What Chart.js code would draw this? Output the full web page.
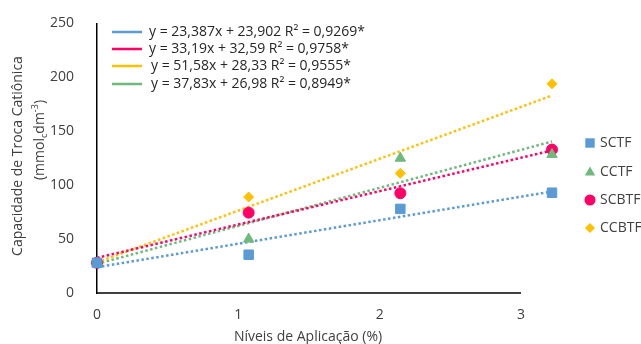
<!DOCTYPE html>
<html>
<head>
<meta charset="utf-8">
<script src="https://cdn.jsdelivr.net/npm/chart.js@4/dist/chart.umd.min.js"></script>
<style>
  html, body { margin: 0; padding: 0; background: #fff; }
  #wrap { width: 641px; height: 344px; }
</style>
</head>
<body>
<div id="wrap"><canvas id="chart" width="641" height="344"></canvas></div>
<script>
// values
const levels = [0, 1, 2, 3];
const sctf = [28, 35.5, 78, 93];
const cctf = [27.5, 50, 125, 128.5];
const scbtf = [28, 74.5, 92.5, 133];
const ccbtf = [28, 89, 111, 194];

// trend line ends (x = 0 and x = 3)
const trendX = [0, 3];
const sctfTrend = [23.9, 94.1];
const scbtfTrend = [32.6, 132.2];
const ccbtfTrend = [28.3, 183.1];
const cctfTrend = [27.0, 140.5];

const xTicks = [0, 1, 2, 3];
const seriesNames = ['SCTF', 'CCTF', 'SCBTF', 'CCBTF'];
const equations = [
  'y = 23,387x + 23,902 R² = 0,9269*',
  'y = 33,19x + 32,59 R² = 0,9758*',
  'y = 51,58x + 28,33 R² = 0,9555*',
  'y = 37,83x + 26,98 R² = 0,8949*',
];
const xTitle = 'Níveis de Aplicação (%)';
const yTitle = 'Capacidade de Troca Catiônica';

const BLUE = '#5B9BD5';
const GREEN = '#6FB97C';
const PINK = '#FF0066';
const YELLOW = '#FFC000';
const TEXT = '#404040';

Chart.defaults.font.family = "'Open Sans', sans-serif";
Chart.defaults.color = TEXT;

const pts = (ys) => levels.map((x, i) => ({ x, y: ys[i] }));
const trend = (ys) => trendX.map((x, i) => ({ x, y: ys[i] }));

const markerSet = (label, ys, color, style, radius) => ({
  type: 'scatter',
  label,
  data: pts(ys),
  xAxisID: 'xd',
  pointStyle: style,
  pointRadius: radius,
  pointHoverRadius: radius,
  backgroundColor: color,
  borderColor: color,
  borderWidth: 1,
  clip: false,
});

const trendSet = (ys, color) => ({
  type: 'line',
  data: trend(ys),
  xAxisID: 'xd',
  borderColor: color,
  borderWidth: 2.5,
  borderDash: [2.5, 2.5],
  pointRadius: 0,
  fill: false,
  clip: false,
});

const markerLegend = [
  { name: seriesNames[0], color: BLUE, style: 'rect' },
  { name: seriesNames[1], color: GREEN, style: 'triangle' },
  { name: seriesNames[2], color: PINK, style: 'circle' },
  { name: seriesNames[3], color: YELLOW, style: 'rectRot' },
];
const lineLegendColors = [BLUE, PINK, YELLOW, GREEN];

function drawMarker(ctx, style, x, y, color) {
  ctx.fillStyle = color;
  ctx.beginPath();
  if (style === 'rect') {
    ctx.rect(x - 4.7, y - 4.7, 9.4, 9.4);
  } else if (style === 'triangle') {
    ctx.moveTo(x, y - 5.5);
    ctx.lineTo(x + 5.2, y + 3.5);
    ctx.lineTo(x - 5.2, y + 3.5);
    ctx.closePath();
  } else if (style === 'circle') {
    ctx.arc(x, y, 5.5, 0, Math.PI * 2);
  } else {
    ctx.moveTo(x, y - 5);
    ctx.lineTo(x + 5, y);
    ctx.lineTo(x, y + 5);
    ctx.lineTo(x - 5, y);
    ctx.closePath();
  }
  ctx.fill();
}

const decorations = {
  id: 'decorations',
  beforeDatasetsDraw(chart) {
    // x axis line, it stops at the "3" tick label like the reference
    const ctx = chart.ctx;
    const xv = chart.scales.x;
    const area = chart.chartArea;
    ctx.save();
    ctx.strokeStyle = '#000';
    ctx.lineWidth = 1.5;
    ctx.beginPath();
    ctx.moveTo(area.left - 0.75, area.bottom);
    ctx.lineTo(xv.getPixelForValue(3), area.bottom);
    ctx.stroke();
    ctx.restore();
  },
  afterDraw(chart) {
    const ctx = chart.ctx;
    ctx.save();

    // equations legend, top left inside the plot
    const eqY = [32, 49, 66, 84];
    const eqX = [149, 149, 151, 151];
    ctx.font = "14px 'Open Sans'";
    ctx.textBaseline = 'middle';
    ctx.textAlign = 'left';
    equations.forEach((txt, i) => {
      ctx.strokeStyle = lineLegendColors[i];
      ctx.lineWidth = 2.5;
      ctx.beginPath();
      ctx.moveTo(112, eqY[i]);
      ctx.lineTo(142, eqY[i]);
      ctx.stroke();
      ctx.fillStyle = '#262626';
      ctx.fillText(txt, eqX[i], eqY[i]);
    });

    // series legend, right side
    const legY = [143, 172, 200, 228];
    ctx.font = "14px 'Open Sans'";
    markerLegend.forEach((m, i) => {
      drawMarker(ctx, m.style, 590, legY[i], m.color);
      ctx.fillStyle = TEXT;
      ctx.fillText(m.name, 600, legY[i]);
    });

    // x axis title
    ctx.font = "14px 'Open Sans'";
    ctx.textAlign = 'center';
    ctx.fillStyle = TEXT;
    ctx.fillText(xTitle, 308, 337);

    // y axis title, two lines, rotated
    ctx.translate(18, 156);
    ctx.rotate(-Math.PI / 2);
    ctx.fillText(yTitle, 0, 0);
    ctx.rotate(Math.PI / 2);
    ctx.translate(-18, -156);

    ctx.translate(40, 140);
    ctx.rotate(-Math.PI / 2);
    const parts = [
      { t: '(mmol', size: 14, dy: 0 },
      { t: 'c', size: 9, dy: 4 },
      { t: 'dm', size: 14, dy: 0 },
      { t: '-3', size: 9, dy: -5 },
      { t: ')', size: 14, dy: 0 },
    ];
    let total = 0;
    parts.forEach((p) => {
      ctx.font = p.size + "px 'Open Sans'";
      p.w = ctx.measureText(p.t).width;
      total += p.w;
    });
    let px = -total / 2;
    ctx.textAlign = 'left';
    parts.forEach((p) => {
      ctx.font = p.size + "px 'Open Sans'";
      ctx.fillText(p.t, px, p.dy);
      px += p.w;
    });
    ctx.restore();
  },
};

// plot area: 97..552 px; labels 0..3 sit on 97..521 px
const dataMax = 3;
const labelMax = 3 * 455 / 424;

new Chart(document.getElementById('chart'), {
  data: {
    datasets: [
      markerSet(seriesNames[0], sctf, BLUE, 'rect', 6.7),
      markerSet(seriesNames[1], cctf, GREEN, 'triangle', 6),
      markerSet(seriesNames[2], scbtf, PINK, 'circle', 5.5),
      markerSet(seriesNames[3], ccbtf, YELLOW, 'rectRot', 5),
      trendSet(sctfTrend, BLUE),
      trendSet(scbtfTrend, PINK),
      trendSet(ccbtfTrend, YELLOW),
      trendSet(cctfTrend, GREEN),
    ],
  },
  options: {
    responsive: false,
    animation: false,
    layout: { padding: { top: 21, right: 89, left: 0, bottom: 0 } },
    plugins: { legend: { display: false }, tooltip: { enabled: false } },
    scales: {
      x: {
        type: 'linear',
        position: 'bottom',
        min: 0,
        max: labelMax,
        afterBuildTicks(s) { s.ticks = xTicks.map((v) => ({ value: v })); },
        ticks: { padding: 6, color: TEXT, font: { size: 14 } },
        grid: { display: false },
        border: { display: false },
        afterFit(s) { s.height = 51; },
      },
      xd: {
        type: 'linear',
        position: 'bottom',
        min: 0,
        max: dataMax,
        display: false,
      },
      y: {
        type: 'linear',
        min: 0,
        max: 250,
        ticks: { stepSize: 50, padding: 15, color: TEXT, font: { size: 14 } },
        grid: { display: false },
        border: { color: '#000', width: 1.5 },
        afterFit(s) { s.width = 97; },
      },
    },
  },
  plugins: [decorations],
});
</script>
</body>
</html>
